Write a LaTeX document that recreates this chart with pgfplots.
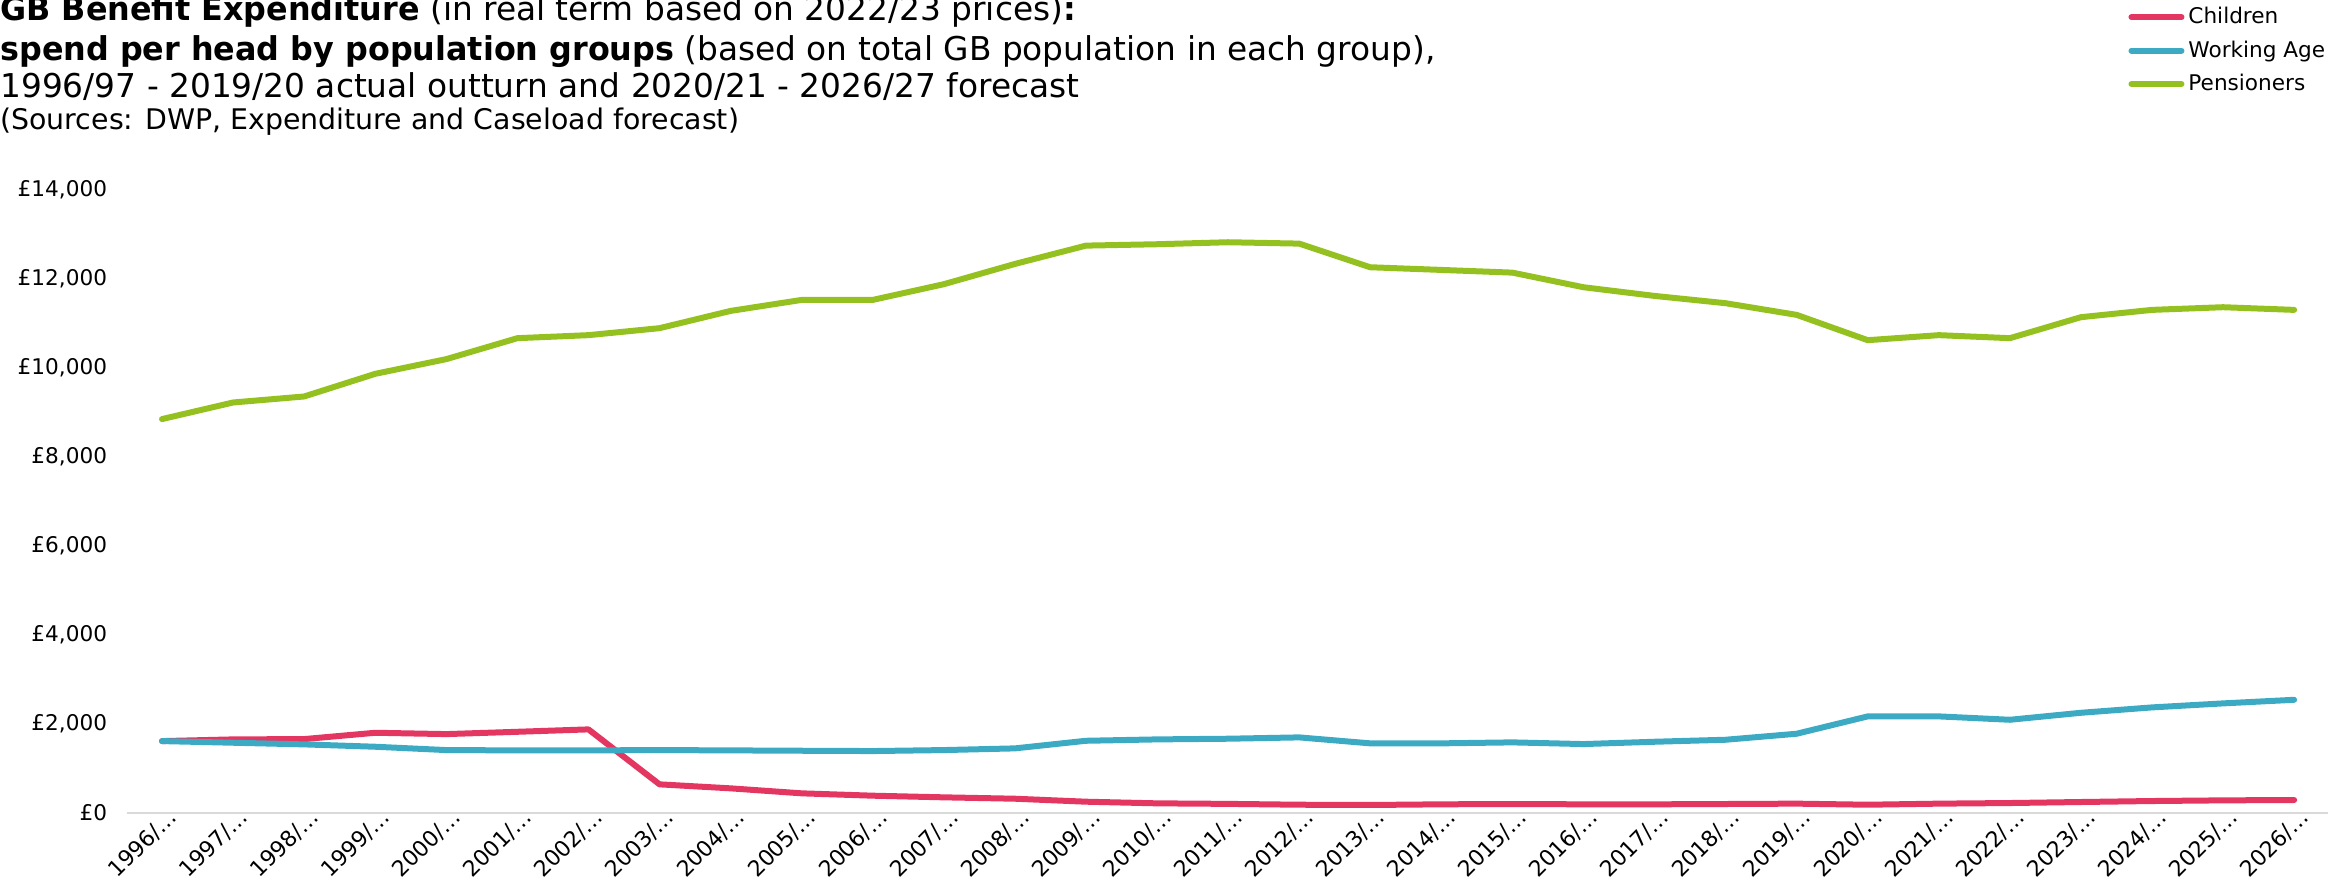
\documentclass[border=0pt]{standalone}
\usepackage{pgfplots}
\pgfplotsset{compat=1.18}
\usepackage{pgfplotstable}
\usepackage{fontspec}
\setmainfont{DejaVu Sans}[BoldFeatures={FakeStretch=0.97}]
\definecolor{cchild}{HTML}{E33762}
\definecolor{cwork}{HTML}{3DAAC4}
\definecolor{cpens}{HTML}{95C120}
\pgfplotstableread{
x child work pens
0 1616 1616 8852
1 1654 1579 9225
2 1661 1542 9360
3 1803 1489 9869
4 1773 1414 10199
5 1825 1407 10670
6 1879 1407 10738
7 644 1414 10895
8 554 1407 11283
9 442 1399 11530
10 389 1392 11530
11 352 1414 11883
12 321 1452 12338
13 254 1623 12750
14 217 1654 12781
15 205 1669 12826
16 186 1699 12795
17 180 1565 12264
18 195 1565 12204
19 202 1587 12143
20 195 1549 11815
21 195 1601 11620
22 202 1646 11456
23 210 1781 11194
24 186 2171 10625
25 210 2171 10738
26 224 2095 10670
27 247 2252 11142
28 269 2373 11306
29 284 2463 11366
30 292 2544 11306
}\datatable
\begin{document}
\begin{tikzpicture}
\path[use as bounding box] (0pt,0pt) rectangle (1164pt,444.5pt);
\node[anchor=base west, inner sep=0pt, font=\fontsize{16.4}{19}\selectfont] at (0pt,434.1pt) {\textbf{GB Benefit Expenditure} (in real term based on 2022/23 prices)\textbf{:}};
\node[anchor=base west, inner sep=0pt, font=\fontsize{16.4}{19}\selectfont] at (0pt,414.1pt) {\textbf{spend per head by population groups} (based on total GB population in each group),};
\node[anchor=base west, inner sep=0pt, font=\fontsize{16.4}{19}\selectfont] at (0pt,395.5pt) {1996/97 - 2019/20 actual outturn and 2020/21 - 2026/27 forecast};
\node[anchor=base west, inner sep=0pt, font=\fontsize{14.2}{17}\selectfont] at (0pt,379.9pt) {(Sources: DWP, Expenditure and Caseload forecast)};
\begin{axis}[
  at={(63.25pt,38pt)}, anchor=south west, scale only axis,
  width=1101.6pt, height=311.5pt,
  xmin=-0.5, xmax=30.5, ymin=0, ymax=14000,
  scaled y ticks=false,
  axis x line*=bottom, axis y line*=left,
  x axis line style={draw=black!15, line width=1.2pt, -},
  y axis line style={draw=none},
  major tick length=0pt,
  xtick={0,...,30},
  xticklabels={1996/…,1997/…,1998/…,1999/…,2000/…,2001/…,2002/…,2003/…,2004/…,2005/…,2006/…,2007/…,2008/…,2009/…,2010/…,2011/…,2012/…,2013/…,2014/…,2015/…,2016/…,2017/…,2018/…,2019/…,2020/…,2021/…,2022/…,2023/…,2024/…,2025/…,2026/…},
  ytick={0,2000,...,14000},
  yticklabels={£0,{£2,000},{£4,000},{£6,000},{£8,000},{£10,000},{£12,000},{£14,000}},
  yticklabel style={font=\fontsize{10.8}{12}\selectfont, anchor=east, xshift=-6.2pt},
  xticklabel style={font=\fontsize{11}{12}\selectfont, anchor=east, xshift=7.9pt, yshift=2.3pt, rotate=45},
  legend style={at={(0.9085,1.300)}, anchor=north west, draw=none, fill=none,
    font=\fontsize{10.8}{12}\selectfont, inner sep=0pt, row sep=3pt,
    cells={anchor=west}},
  legend image code/.code={\draw[#1, line width=3pt, line cap=round] (0pt,0pt) -- (25pt,0pt);},
  every axis plot/.append style={line width=3pt, line join=round, line cap=round, mark=none},
  clip=false,
]
\addplot[cchild] table[x=x, y=child] {\datatable};
\addlegendentry{Children}
\addplot[cwork] table[x=x, y=work] {\datatable};
\addlegendentry{Working Age}
\addplot[cpens] table[x=x, y=pens] {\datatable};
\addlegendentry{Pensioners}
\end{axis}
\end{tikzpicture}
\end{document}
